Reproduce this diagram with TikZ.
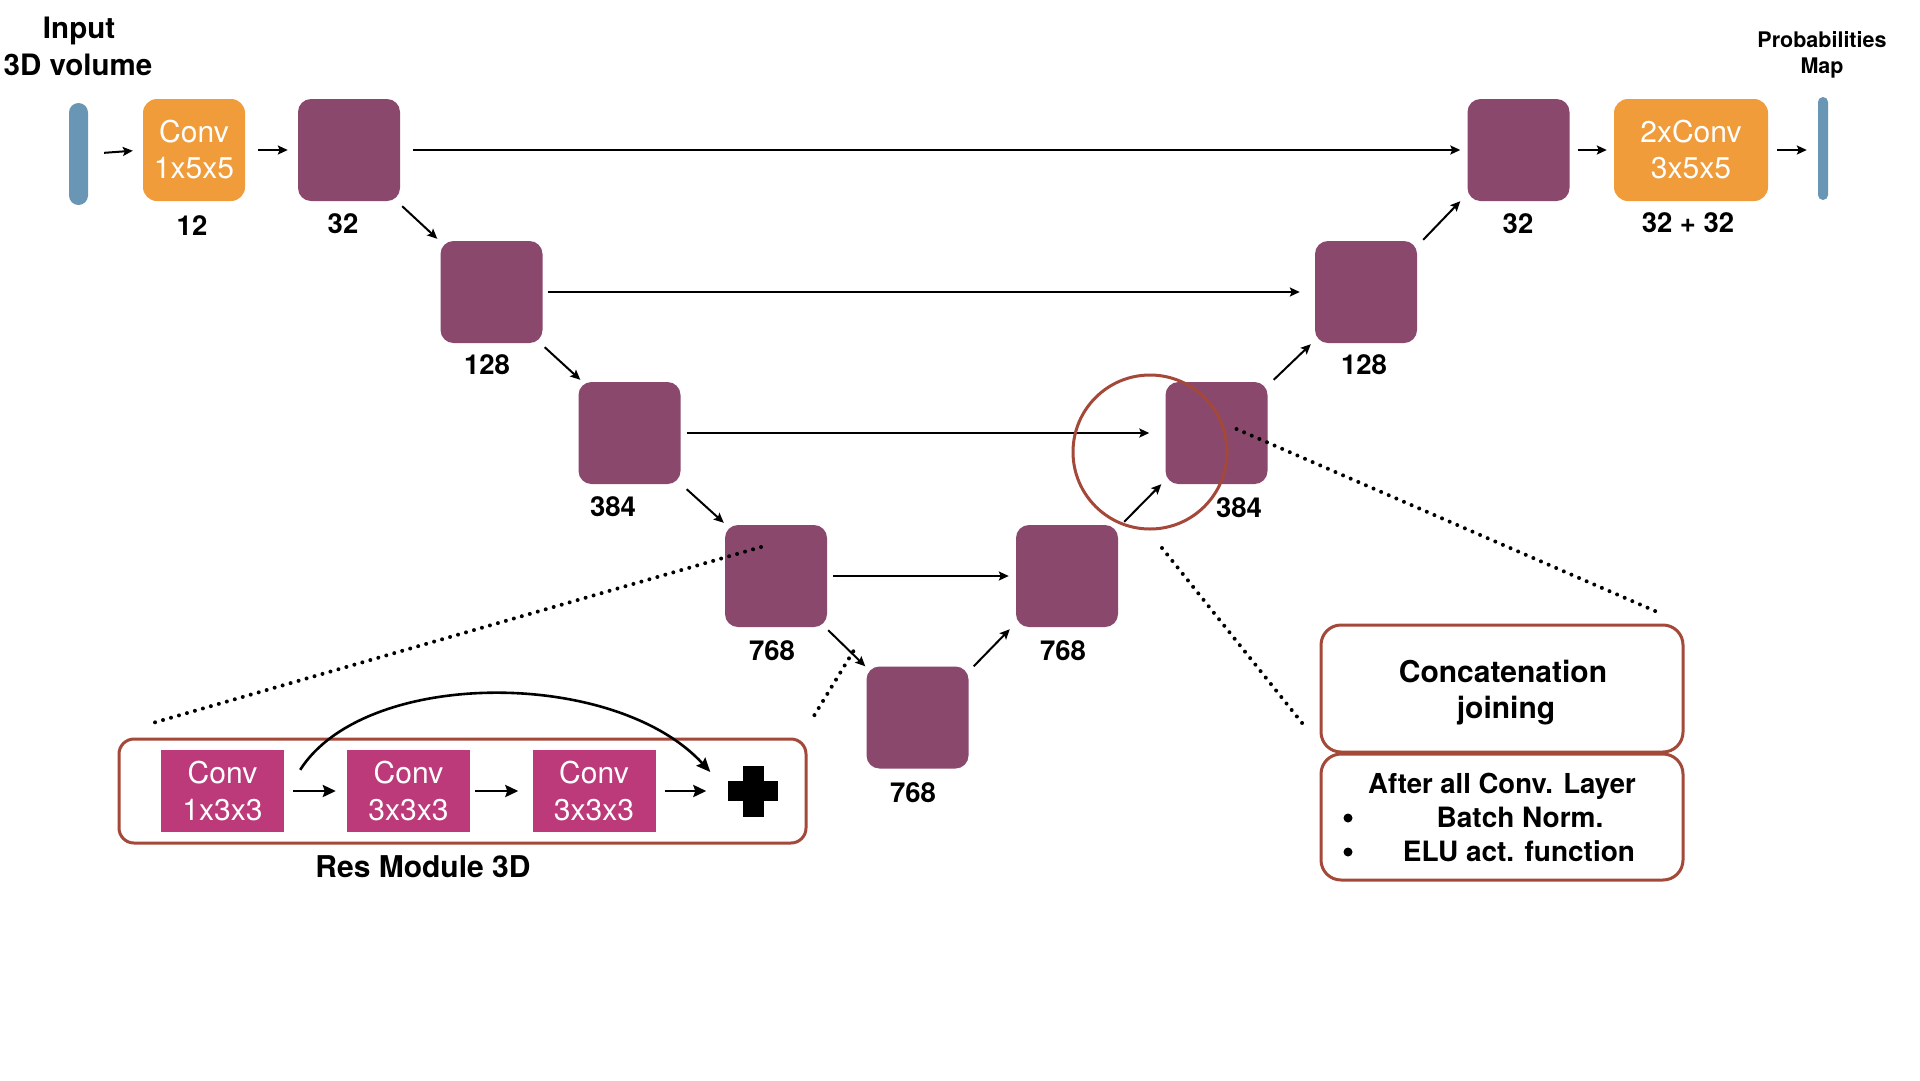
\documentclass[tikz,border=0pt]{standalone}
\usepackage{fontspec}
\setmainfont{TeX Gyre Heros}
\usetikzlibrary{arrows.meta}
\definecolor{purp}{RGB}{138,72,108}
\definecolor{orng}{RGB}{240,156,58}
\definecolor{blu}{RGB}{106,150,181}
\definecolor{brn}{RGB}{164,72,58}
\definecolor{pnk}{RGB}{188,58,122}
\begin{document}
\begin{tikzpicture}[x=1pt,y=-1pt,
  fm/.style={fill=purp, rounded corners=13pt, minimum width=102pt, minimum height=102pt, inner sep=0pt},
  cv/.style={fill=orng, rounded corners=14pt, minimum height=102pt, inner sep=0pt, text=white, align=center, font=\fontsize{30}{36}\selectfont},
  pk/.style={fill=pnk, minimum width=123pt, minimum height=82pt, inner sep=0pt, text=white, align=center, font=\fontsize{30}{37}\selectfont},
  num/.style={anchor=base, inner sep=0pt, font=\fontsize{27.5}{32}\selectfont\bfseries},
  ttl/.style={anchor=base, inner sep=0pt, font=\fontsize{29.5}{36}\selectfont\bfseries},
  btx/.style={anchor=base, inner sep=0pt, font=\fontsize{28}{34}\selectfont\bfseries},
  bul/.style={circle, fill=black, minimum size=9pt, inner sep=0pt},
  infobox/.style={draw=brn, line width=3pt, rounded corners=20pt, minimum width=362pt, inner sep=0pt},
  arr/.style={line width=2pt, -{Stealth[length=10pt,width=9pt,inset=2pt]}},
  rarr/.style={line width=2.6pt, -{Stealth[length=13pt,width=12pt,inset=2pt]}},
  dotl/.style={line width=4pt, line cap=round, dash pattern=on 0pt off 8.3pt},
]
\useasboundingbox (0,0) rectangle (1920,1080);
\fill[white] (0,0) rectangle (1920,1080);

% titles
\node[ttl] (tin1) at (79,38) {Input};
\node[ttl] (tin2) at (78,75) {3D volume};
\node[anchor=base, inner sep=0pt, font=\fontsize{21.5}{26}\selectfont\bfseries] (tout1) at (1822,47) {Probabilities};
\node[anchor=base, inner sep=0pt, font=\fontsize{21.5}{26}\selectfont\bfseries] (tout2) at (1822,73) {Map};

% input / output bars
\node[fill=blu, rounded corners=9.5pt, minimum width=19pt, minimum height=102pt, inner sep=0pt] (inbar) at (78.5,154) {};
\node[fill=blu, rounded corners=5pt, minimum width=10pt, minimum height=103pt, inner sep=0pt] (outbar) at (1823,148.5) {};

% conv blocks
\node[cv, minimum width=102pt] (c1) at (194,150) {Conv\\1x5x5};
\node[cv, minimum width=154pt] (c2) at (1691,150) {2xConv\\3x5x5};

% feature maps
\node[fm] (b32L) at (349,150) {};
\node[fm] (b128L) at (491.5,292) {};
\node[fm] (b384L) at (629.5,433) {};
\node[fm] (b768L) at (776,576) {};
\node[fm] (b768B) at (917.5,717.5) {};
\node[fm] (b768R) at (1067,576) {};
\node[fm] (b384R) at (1216.5,433) {};
\node[fm] (b128R) at (1366,292) {};
\node[fm] (b32R) at (1518.5,150) {};

% labels
\node[num] (l12) at (192,235) {12};
\node[num] (l32L) at (343,233) {32};
\node[num] (l128L) at (487,374.5) {128};
\node[num] (l384L) at (613,516) {384};
\node[num] (l768L) at (772,660) {768};
\node[num] (l768B) at (913,802) {768};
\node[num] (l768R) at (1063,660) {768};
\node[num] (l384R) at (1239,517) {384};
\node[num] (l128R) at (1364,374.5) {128};
\node[num] (l32R) at (1518,233) {32};
\node[num] (l3232) at (1688,232) {32 + 32};

% top row arrows
\draw[arr, shorten <=16pt, shorten >=10pt] (inbar.east) -- (c1.west);
\draw[arr, shorten <=13pt, shorten >=10pt] (c1.east) -- (b32L.west);
\draw[arr, shorten <=8pt, shorten >=7pt] (b32R.east) -- (c2.west);
\draw[arr, shorten <=9pt, shorten >=11pt] (c2.east) -- (outbar.west |- c2.east);

% skip connections
\draw[arr, shorten <=13pt, shorten >=7pt] (b32L.east) -- (b32R.west);
\draw[arr, shorten <=5pt, shorten >=15pt] (b128L.east) -- (b128R.west);
\draw[arr, shorten <=6pt, shorten >=16pt] (b384L.east) -- (b384R.west);
\draw[arr, shorten <=6pt, shorten >=7pt] (b768L.east) -- (b768R.west);

% down path
\draw[arr] ([shift={(2,5)}]b32L.south east) -- ([shift={(-3,-2)}]b128L.north west);
\draw[arr] ([shift={(2,4)}]b128L.south east) -- ([shift={(2,-2)}]b384L.north west);
\draw[arr] ([shift={(6,5)}]b384L.south east) -- ([shift={(-1,-2)}]b768L.north west);
\draw[arr] ([shift={(1,3)}]b768L.south east) -- ([shift={(-1,0)}]b768B.north west);
% up path
\draw[arr] ([shift={(5,0)}]b768B.north east) -- ([shift={(-6,2)}]b768R.south west);
\draw[arr] ([shift={(6,-3)}]b768R.north east) -- ([shift={(-4,0)}]b384R.south west);
\draw[arr] ([shift={(6,-2)}]b384R.north east) -- ([shift={(-4,1)}]b128R.south west);
\draw[arr] ([shift={(6,-1)}]b128R.north east) -- ([shift={(-7,0)}]b32R.south west);

% highlight circle
\node[draw=brn, line width=3pt, circle, minimum size=154pt, inner sep=0pt] (circ) at (1150,452) {};

% info boxes
\node[infobox, minimum height=127pt] (concat) at (1502,688.5) {};
\node[anchor=base, inner sep=0pt, font=\fontsize{30}{36}\selectfont\bfseries] (tc1) at (1503,682) {Concatenation};
\node[anchor=base, inner sep=0pt, font=\fontsize{30}{36}\selectfont\bfseries] (tc2) at (1506,718) {joining};
\node[infobox, minimum height=126pt] (after) at (1502,817) {};
\node[anchor=base, inner sep=0pt, font=\fontsize{27.5}{34}\selectfont\bfseries] (ta1) at (1502,793) {After all Conv. Layer};
\node[bul] (tb1) at (1348,818) {};
\node[btx] (ta2) at (1520,827) {Batch Norm.};
\node[bul] (tb2) at (1348,852) {};
\node[btx] (ta3) at (1519,861) {ELU act. function};

% res module
\node[draw=brn, line width=3pt, rounded corners=15pt, minimum width=687pt, minimum height=104pt, inner sep=0pt] (resbox) at (462.5,791) {};
\node[pk] (r1) at (222.5,791) {Conv\\1x3x3};
\node[pk] (r2) at (408.5,791) {Conv\\3x3x3};
\node[pk] (r3) at (594,791) {Conv\\3x3x3};
\node[minimum size=51pt, inner sep=0pt] (plus) at (753,791) {};
\fill ([shift={(-25,-10)}]plus.center) rectangle ([shift={(25,10)}]plus.center);
\fill ([shift={(-10.5,-25.5)}]plus.center) rectangle ([shift={(10.5,25.5)}]plus.center);
\draw[rarr, shorten <=9pt, shorten >=11pt] (r1.east) -- (r2.west);
\draw[rarr, shorten <=5pt, shorten >=14pt] (r2.east) -- (r3.west);
\draw[rarr, shorten <=9pt, shorten >=21pt] (r3.east) -- (plus.west);
\coordinate (cs) at ([shift={(16,20)}]r1.north east);
\coordinate (ce) at ([shift={(-17,-19)}]plus.west);
\draw[line width=2.6pt, -{Stealth[length=14pt,width=12pt,inset=2pt]}] (cs) .. controls (365,668) and (615,668) .. (ce);
\node[anchor=base, inner sep=0pt, font=\fontsize{30}{36}\selectfont\bfseries] (tres) at (423,877) {Res Module 3D};

% dotted callouts
\coordinate (d1a) at ([shift={(20,-4)}]b384R.center);
\coordinate (d1b) at ([shift={(-26,-11)}]concat.north east);
\draw[dotl] (d1a) -- (d1b);
\coordinate (d2a) at ([shift={(12,96)}]circ.center);
\coordinate (d2b) at ([shift={(-13,105)}]concat.north west);
\draw[dotl] (d2a) -- (d2b);
\coordinate (d3a) at ([shift={(-15,-29)}]b768L.center);
\coordinate (d3b) at ([shift={(30,-13)}]resbox.north west);
\draw[dotl] (d3a) -- (d3b);
\coordinate (d4a) at ([shift={(-13,-15)}]b768B.north west);
\coordinate (d4b) at ([shift={(3,-16)}]resbox.north east);
\draw[dotl] (d4a) -- (d4b);
\end{tikzpicture}
\end{document}
